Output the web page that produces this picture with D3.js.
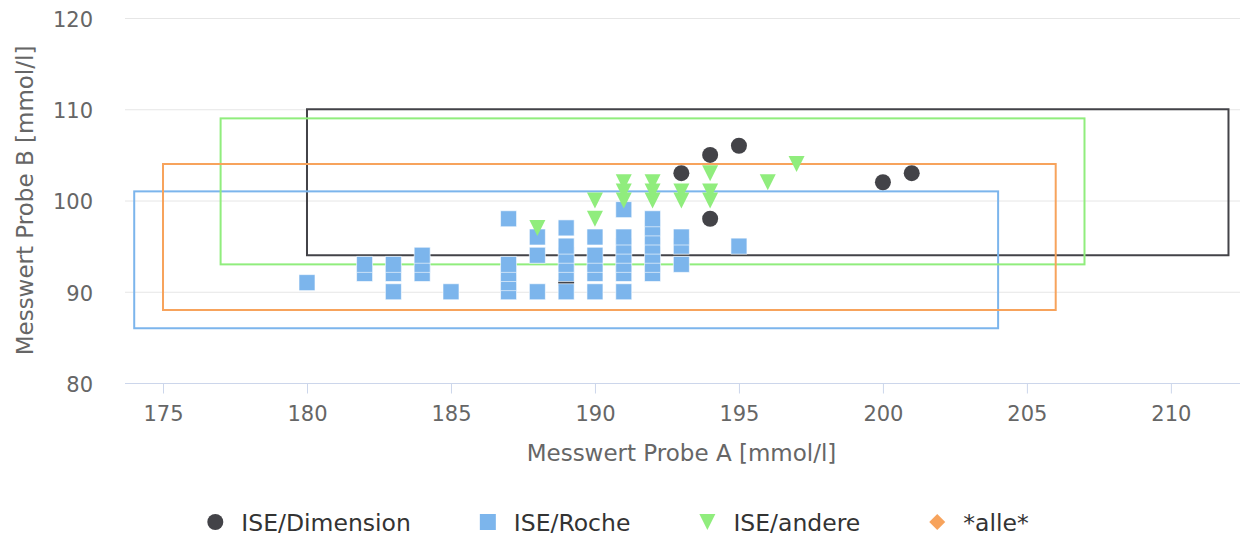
<!DOCTYPE html>
<html>
<head>
<meta charset="utf-8">
<script src="https://cdn.jsdelivr.net/npm/d3@7"></script>
<style>
  body { margin: 0; background: #fff; }
  svg { display: block; font-family: "DejaVu Sans", sans-serif; }
</style>
</head>
<body>
<div id="chart"></div>
<script>
// Series meta
const seriesNames = ["ISE/Dimension", "ISE/Roche", "ISE/andere", "*alle*"];
const seriesColors = ["#434348", "#7cb5ec", "#90ed7d", "#f7a35c"];
const seriesSymbols = ["circle", "square", "triangle-down", "diamond"];

// Points per series
const dimensionX = [189, 193, 194, 194, 195, 200, 201];
const dimensionY = [91, 103, 105, 98, 106, 102, 103];

const rocheX = [180, 182, 182, 183, 183, 183, 184, 184, 184, 185,
    187, 187, 187, 187, 187, 188, 188, 188,
    189, 189, 189, 189, 189, 189, 190, 190, 190, 190, 190,
    191, 191, 191, 191, 191, 191, 191, 192, 192, 192, 192, 192, 192, 192,
    193, 193, 193, 195];
const rocheY = [91, 92, 93, 90, 92, 93, 92, 93, 94, 90,
    90, 91, 92, 93, 98, 90, 94, 96,
    90, 92, 93, 94, 95, 97, 90, 92, 93, 94, 96,
    90, 92, 93, 94, 95, 96, 99, 92, 93, 94, 95, 96, 97, 98,
    93, 95, 96, 95];

const andereX = [188, 190, 190, 191, 191, 191, 192, 192, 192, 193, 193, 194, 194, 194, 196, 197];
const andereY = [97, 98, 100, 100, 101, 102, 100, 101, 102, 100, 101, 100, 101, 103, 102, 104];

const alleX = [];
const alleY = [];

// Range boxes, one per series (same order as seriesNames)
const boxXMin = [180, 174, 177, 175];
const boxXMax = [212, 204, 207, 206];
const boxYMin = [94, 86, 93, 88];
const boxYMax = [110, 101, 109, 104];

const xTicks = [175, 180, 185, 190, 195, 200, 205, 210];
const yTicks = [80, 90, 100, 110, 120];

const xTitle = "Messwert Probe A [mmol/l]";
const yTitle = "Messwert Probe B [mmol/l]";

// Layout
const width = 1240, height = 540;
const plot = { left: 125, right: 1240, top: 18, bottom: 383 };

const svg = d3.select("#chart").append("svg")
    .attr("width", width)
    .attr("height", height);

const x = d3.scaleLinear().domain([173.68, 212.4]).range([plot.left, plot.right]);
const y = d3.scaleLinear().domain([80, 120]).range([plot.bottom, plot.top]);

// marker shapes, radius r
function markerPath(type, r) {
    if (type === "circle") return d3.symbol(d3.symbolCircle, Math.PI * r * r)();
    if (type === "square") return `M${-r},${-r}H${r}V${r}H${-r}Z`;
    if (type === "triangle-down") return `M${-r},${-r}L${r},${-r}L0,${r}Z`;
    if (type === "diamond") return `M0,${-r}L${r},0L0,${r}L${-r},0Z`;
}

// Grid
svg.append("g")
    .selectAll("line")
    .data(yTicks.filter(d => d !== 80))
    .join("line")
    .attr("x1", plot.left).attr("x2", plot.right)
    .attr("y1", d => y(d) + 0.5).attr("y2", d => y(d) + 0.5)
    .attr("stroke", "#e6e6e6");

// X axis
const xAxis = svg.append("g")
    .attr("transform", `translate(0,${plot.bottom + 0.5})`)
    .call(d3.axisBottom(x).tickValues(xTicks).tickSize(10).tickPadding(12).tickFormat(d3.format("d")));
xAxis.select(".domain").attr("stroke", "#ccd6eb").attr("d", `M${plot.left},0H${plot.right}`);
xAxis.selectAll(".tick line").attr("stroke", "#ccd6eb");
xAxis.selectAll(".tick text")
    .attr("fill", "#666666")
    .attr("font-size", 21)
    .attr("font-family", "DejaVu Sans, sans-serif")
    .attr("dy", null)
    .attr("y", 37);

// Y axis labels
const yAxis = svg.append("g")
    .attr("transform", `translate(${plot.left},0)`)
    .call(d3.axisLeft(y).tickValues(yTicks).tickSize(0).tickPadding(32).tickFormat(d3.format("d")));
yAxis.select(".domain").remove();
yAxis.selectAll(".tick text")
    .attr("fill", "#666666")
    .attr("font-size", 21)
    .attr("font-family", "DejaVu Sans, sans-serif")
    .attr("dy", "0.4em");

// Axis titles
svg.append("text")
    .attr("x", (plot.left + plot.right) / 2 - 1)
    .attr("y", 461)
    .attr("text-anchor", "middle")
    .attr("fill", "#666666")
    .attr("font-size", 23)
    .text(xTitle);

svg.append("text")
    .attr("transform", `translate(33,${(plot.top + plot.bottom) / 2}) rotate(-90)`)
    .attr("text-anchor", "middle")
    .attr("fill", "#666666")
    .attr("font-size", 23)
    .text(yTitle);

// Boxes
const boxes = seriesNames.map((name, i) => ({
    color: seriesColors[i],
    x0: boxXMin[i], x1: boxXMax[i], y0: boxYMin[i], y1: boxYMax[i]
}));
svg.append("g")
    .selectAll("rect")
    .data(boxes)
    .join("rect")
    .attr("x", d => x(d.x0))
    .attr("y", d => y(d.y1))
    .attr("width", d => x(d.x1) - x(d.x0))
    .attr("height", d => y(d.y0) - y(d.y1))
    .attr("fill", "none")
    .attr("stroke", d => d.color)
    .attr("stroke-width", 2);

// Points
const seriesX = [dimensionX, rocheX, andereX, alleX];
const seriesY = [dimensionY, rocheY, andereY, alleY];
seriesNames.forEach((name, i) => {
    const pts = seriesX[i].map((v, k) => [v, seriesY[i][k]]);
    svg.append("g")
        .selectAll("path")
        .data(pts)
        .join("path")
        .attr("transform", d => `translate(${x(d[0])},${y(d[1])})`)
        .attr("d", markerPath(seriesSymbols[i], 8))
        .attr("fill", seriesColors[i])
        .attr("stroke", seriesSymbols[i] === "square" ? "#ffffff" : "none")
        .attr("stroke-opacity", 0.6)
        .attr("stroke-width", 1);
});

// Legend
const legend = svg.append("g").attr("transform", "translate(0,522)");
let cursor = 0;
const items = [];
seriesNames.forEach((name, i) => {
    const g = legend.append("g");
    g.append("path")
        .attr("d", markerPath(seriesSymbols[i], 8))
        .attr("fill", seriesColors[i]);
    const t = g.append("text")
        .attr("x", 26)
        .attr("y", 8.5)
        .attr("fill", "#333333")
        .attr("font-size", 23.5)
        .text(name);
    items.push({ g, start: cursor });
    cursor += 26 + t.node().getComputedTextLength() + 77;
});
const total = cursor - 77 + 8;
const offset = (width - total) / 2 + 8 - 2;
items.forEach(it => it.g.attr("transform", `translate(${offset + it.start},0)`));
</script>
</body>
</html>
